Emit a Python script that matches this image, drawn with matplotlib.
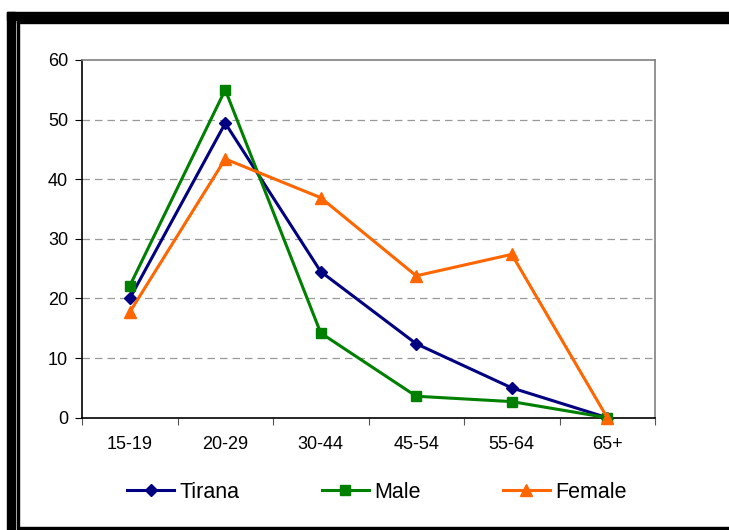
import matplotlib
matplotlib.use("Agg")
import matplotlib.pyplot as plt
from matplotlib.patches import Rectangle

plt.rcParams['font.family'] = ['Liberation Sans', 'DejaVu Sans']

categories = ["15-19", "20-29", "30-44", "45-54", "55-64", "65+"]
tirana = [20.0, 49.4, 24.5, 12.4, 5.0, 0.0]
male = [22.1, 55.0, 14.2, 3.6, 2.7, 0.0]
female = [17.7, 43.4, 36.9, 23.8, 27.4, 0.0]
yticks = [0, 10, 20, 30, 40, 50, 60]

W, H = 729, 530
fig = plt.figure(figsize=(W / 100, H / 100), dpi=100)

def px_rect(x0, y0, x1, y1, color):
    fig.patches.append(Rectangle((x0 / W, 1 - y1 / H), (x1 - x0) / W, (y1 - y0) / H,
                                 transform=fig.transFigure, color=color, zorder=0))

# frame decoration
px_rect(7, 12, W, 19.5, 'black')
px_rect(7, 12, 14.5, H, 'black')
px_rect(16.5, 20.5, W, 22.5, 'black')
px_rect(16.5, 20.5, 18.5, 527, 'black')
px_rect(16.5, 526.5, W, 529, 'black')

ax = fig.add_axes([82 / W, 1 - 417.7 / H, (655 - 82) / W, (417.7 - 60) / H])
x = list(range(len(categories)))

ax.plot(x, tirana, color='#000080', lw=2.2, marker='D', ms=6.5, label='Tirana', zorder=3, clip_on=False)
ax.plot(x, male, color='#008000', lw=2.2, marker='s', ms=7, label='Male', zorder=3, clip_on=False)
ax.plot(x, female, color='#FF6600', lw=2.2, marker='^', ms=9, label='Female', zorder=3, clip_on=False)

ax.set_xlim(-0.5, len(categories) - 0.5)
ax.set_ylim(0, 60)
ax.set_yticks(yticks)
ax.set_yticklabels([str(v) for v in yticks], fontsize=13)
ax.set_xticks([i - 0.5 for i in range(len(categories) + 1)])
ax.set_xticklabels([])
ax.set_xticks(x, minor=True)
ax.set_xticklabels(categories, minor=True, fontsize=13)
ax.tick_params(axis='x', which='minor', length=0, pad=13)
ax.tick_params(axis='x', which='major', length=5, direction='out', color='#555555')
ax.tick_params(axis='y', length=5, direction='out', pad=5, color='black')

for v in yticks[1:-1]:
    ax.axhline(v, color='#999999', lw=0.9, ls=(0, (6, 4)), zorder=1)

ax.spines['left'].set_color('black')
ax.spines['bottom'].set_color('black')
ax.spines['top'].set_color('#808080')
ax.spines['right'].set_color('#808080')
for s in ax.spines.values():
    s.set_linewidth(1.2)

handles, labels = ax.get_legend_handles_labels()
fig.legend(handles, labels, loc='center', bbox_to_anchor=(377 / W, 1 - 492 / H), ncol=3,
           frameon=False, fontsize=15.5, handlelength=2.2, columnspacing=3.8, handletextpad=0.25)

fig.savefig('out.png', dpi=100)
